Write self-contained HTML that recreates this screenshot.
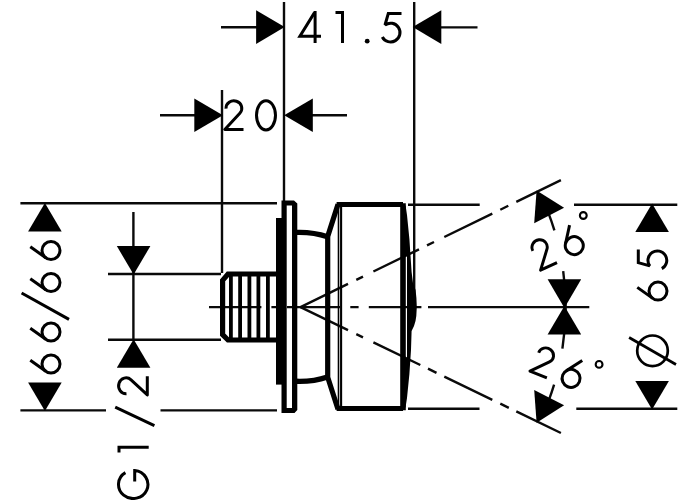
<!DOCTYPE html>
<html><head><meta charset="utf-8"><title>drawing</title>
<style>
html,body{margin:0;padding:0;background:#fff;}
body{width:700px;height:500px;overflow:hidden;font-family:"Liberation Sans",sans-serif;}
svg{display:block}
</style></head><body>
<svg width="700" height="500" viewBox="0 0 700 500">
<rect width="700" height="500" fill="#fff"/>
<defs>
<g id="g0"><ellipse cx="11" cy="-16.1" rx="9.5" ry="14.6"/></g>
<g id="g1"><path d="M0,-30.4 H7 V0"/></g>
<g id="g2"><path d="M2.51,-22.41 A7.9 7.5 0 1 1 16.33,-17.85 L1.3,-1.6 H20" stroke-linejoin="round"/></g>
<g id="g4"><path d="M17.6,0 V-32"/><path d="M17,-30.4 L2.4,-6.8 H23.5"/></g>
<g id="g5"><path d="M20.5,-30 H7.3 L4,-18.5 A9.4 9.4 0 1 1 1.3,-6.5"/></g>
<g id="g6"><path d="M14.2,-31.2 L3.2,-15.7"/><circle cx="10.5" cy="-10.5" r="9"/></g>
<g id="gdot"><circle cx="0" cy="0" r="2.4" fill="#000" stroke="none"/></g>
<path id="arr" d="M0,0 L-28.6,-16.8 L-28.6,16.8 Z"/>
</defs>

<!-- thin extension / dimension lines -->
<g fill="none" stroke="#0a0a0a" stroke-width="2.4" stroke-linecap="butt">
<path d="M284,2 V201"/>
<path d="M414.2,2 V300"/>
<path d="M222,90 V273"/>
<path d="M221,27.3 H258"/><path d="M440,27.4 H477.5"/>
<path d="M160,115.3 H196"/><path d="M311,115.3 H347"/>
<path d="M20.4,203.2 H277"/>
<path d="M20.4,410.4 H106 M160.5,410.4 H277"/>
<path d="M108,274 H221"/><path d="M108,339.8 H221"/>
<path d="M133.4,212 V340"/>
<path d="M408,204.7 H479.7 M574,204.7 H677.3"/>
<path d="M408,408.8 H479.5 M576.3,408.8 H677.3"/>
<path d="M209,307.1 H261.4 M271.4,307.1 H277 M287,307.1 H340 M350.3,307.1 H358.6 M368.8,307.1 H421.4 M428,307.1 H589.3"/>
<path d="M300.5,307.1 L348.0,283.9 M356.3,279.9 L363.0,276.6 M373.4,271.5 L419.0,249.3 M427.0,245.4 L434.0,242.0 M444.3,237.0 L492.3,213.6 M500.3,209.7 L508.3,205.7 M516.3,201.8 L560.9,180.1 M300.5,307.1 L348.0,330.1 M356.3,334.1 L363.0,337.3 M373.4,342.3 L420.3,365.0 M428.0,368.7 L436.5,372.8 M444.3,376.6 L492.3,399.8 M500.3,403.7 L508.8,407.8 M516.3,411.4 L560.9,433.0"/>
<path d="M548.1,212.1 A265.2 265.2 0 0 1 554.4,230.4 M563.2,271.1 A265.2 265.2 0 0 1 562.4,348.6 M554.1,384.6 A265.2 265.2 0 0 1 548.6,400.8"/>
</g>

<!-- arrows -->
<g fill="#000" stroke="none">
<use href="#arr" transform="translate(284.7,27.1)"/>
<use href="#arr" transform="translate(412.7,27.1) rotate(180)"/>
<use href="#arr" transform="translate(222.9,115.3)"/>
<use href="#arr" transform="translate(284.2,115.3) rotate(180)"/>
<use href="#arr" transform="translate(44.9,202.9) rotate(-90)"/>
<use href="#arr" transform="translate(44.9,411) rotate(90)"/>
<use href="#arr" transform="translate(133.6,274.6) rotate(90)"/>
<use href="#arr" transform="translate(133.6,339.2) rotate(-90)"/>
<use href="#arr" transform="translate(652.1,203.5) rotate(-90)"/>
<use href="#arr" transform="translate(652.1,409.6) rotate(90)"/>
<use href="#arr" transform="translate(564.4,307.9) rotate(90)"/>
<use href="#arr" transform="translate(564.4,305.9) rotate(-90)"/>
<path d="M536.6,190.6 L564.1,207.8 L534.2,223.2 Z"/>
<path d="M536.6,422.7 L564.1,405.3 L534.2,389.9 Z"/>
</g>

<!-- text glyphs -->
<g fill="none" stroke="#000" stroke-width="3" stroke-linecap="butt" stroke-linejoin="miter" stroke-miterlimit="2.5">
<use href="#g4" transform="translate(297.5,43)"/>
<use href="#g1" transform="translate(335.5,43)"/>
<use href="#gdot" transform="translate(367.2,41.2)"/>
<use href="#g5" transform="translate(381,43.5)"/>
<use href="#g2" transform="translate(223.5,131.1)"/>
<use href="#g0" transform="translate(255,131.4)"/>
<!-- 66/66 -->
<use href="#g6" transform="translate(61.5,374.5) rotate(-90)"/>
<use href="#g6" transform="translate(61.5,342.5) rotate(-90)"/>
<path d="M69,319.4 L21.6,293"/>
<use href="#g6" transform="translate(61.5,293) rotate(-90)"/>
<use href="#g6" transform="translate(61.5,261) rotate(-90)"/>
<!-- G1/2 -->
<path d="M125.41,472.63 A14.7 14 0 1 0 134.7,470.57 V481.4"/>
<path d="M119,452.4 V447.2 H148.7"/>
<path d="M154.4,425.6 L115.2,407.2"/>
<use href="#g2" transform="translate(148.9,396.2) rotate(-90)"/>
<!-- dia 65 -->
<circle cx="652.5" cy="350.8" r="15.3" stroke-width="2.7"/>
<path d="M629.1,337.5 L676,364.5" stroke-width="2.7"/>
<use href="#g6" transform="translate(668.5,301.6) rotate(-90)"/>
<use href="#g5" transform="translate(668.3,269.9) rotate(-90)"/>
<!-- 26 deg upper -->
<use href="#g2" transform="translate(540.1,272.2) rotate(-25) scale(0.97,1)"/>
<use href="#g6" transform="translate(568.7,259.4) rotate(-23)"/>
<circle cx="583.3" cy="215.5" r="3.4" stroke-width="2.1"/>
<!-- 26 deg lower -->
<use href="#g2" transform="translate(528.2,372.1) rotate(22) scale(0.975)"/>
<use href="#g6" transform="translate(557.4,384.2) rotate(22)"/>
<circle cx="599.1" cy="364.4" r="3.4" stroke-width="2.1"/>
</g>

<!-- object -->
<g fill="none" stroke="#000">
<!-- thread -->
<path d="M277,274 H228 L222.6,280.4 V334.6 L228,340 H277" stroke-width="5.2"/>
<path d="M230.9,274 V340 M240.1,274 V340 M249.4,274 V340 M258.4,274 V340 M267.9,274 V340" stroke-width="3.8"/>
<!-- backplate -->
<rect x="276" y="218" width="8" height="166.6" fill="#000" stroke="none"/>
<!-- flange -->
<path d="M281.5,200.5 H294 L297.3,203.5 V410 L294.5,413 H281.5 Z M286.7,205.5 V408 H292 V205.5 Z" fill="#000" fill-rule="evenodd" stroke="none"/>
<!-- neck arcs -->
<path d="M296,232.4 Q313,231.8 327.5,236.8" stroke-width="5.4"/>
<path d="M296,381.3 Q313,381.9 327.5,377" stroke-width="5.4"/>
<!-- body -->
<path d="M338,204.2 L327.7,236.4 V377.2 L338,409.2" stroke-width="5.2" stroke-linejoin="miter"/>
<path d="M336.6,204.5 H403" stroke-width="4.8"/><path d="M336.6,408.6 H403" stroke-width="5"/>
<path d="M403,203.2 V410.2" stroke-width="5.6" stroke-linecap="butt"/>
<path d="M338.5,205 V408" stroke-width="1.6"/><path d="M341.1,205 V408" stroke-width="2.1"/>
<!-- dome -->
<path d="M405.6,205.5 L407,215 L409.4,239 L411,263 L411.6,272 L413,283 L415.6,290 L416.4,298 L416.8,307 L416.3,316 L415.5,321 L414,326 L411.6,331 L411,350 L409.4,374 L407,398 L405.5,407.5 H404 V358 H407 V256 H404 V205.5 Z" fill="#000" stroke="none"/>
</g>
</svg>
</body></html>
